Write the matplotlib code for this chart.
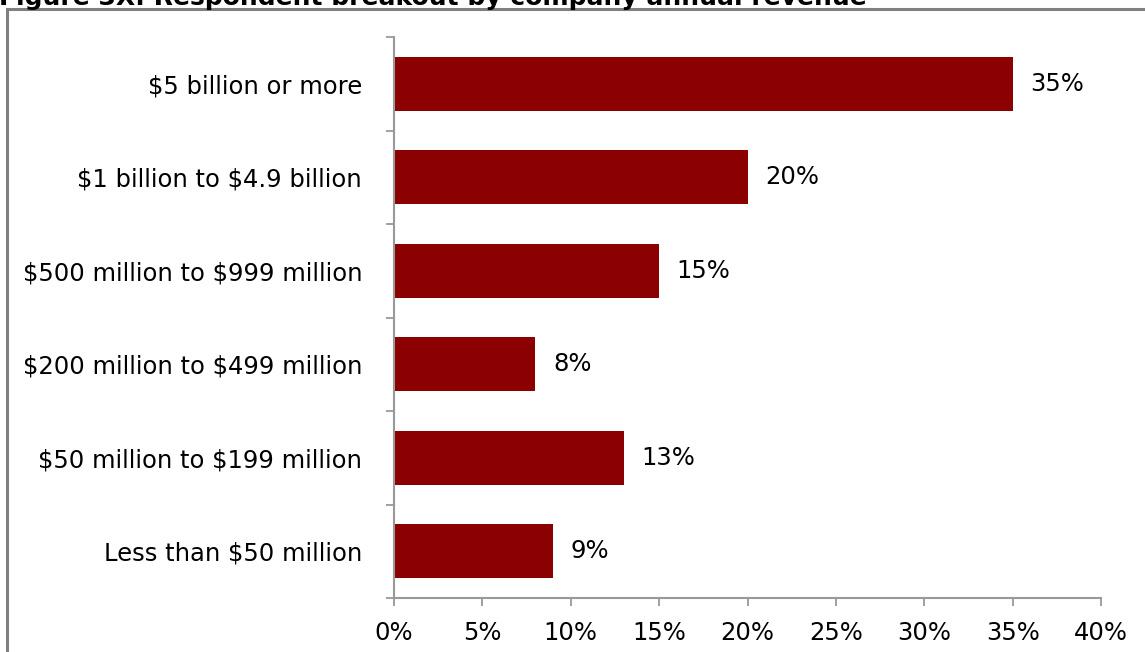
import matplotlib
matplotlib.use("Agg")
import matplotlib.pyplot as plt
from matplotlib.patches import Rectangle

plt.rcParams["text.parse_math"] = False

# Survey breakdown by annual revenue
categories = [
    "Less than $50 million",
    "$50 million to $199 million",
    "$200 million to $499 million",
    "$500 million to $999 million",
    "$1 billion to $4.9 billion",
    "$5 billion or more",
]
shares = [9, 13, 8, 15, 20, 35]
x_ticks = [0, 5, 10, 15, 20, 25, 30, 35, 40]

title = "Figure 3X: Respondent breakout by company annual revenue"

bar_color = "#8B0000"
axis_color = "#999999"
fs = 17.5

W, H = 1145, 652
fig = plt.figure(figsize=(W / 100, H / 100), dpi=100)
fig.patch.set_facecolor("white")

# Outer frame, running off the right and bottom edges
fig.patches.append(Rectangle((7 / W, -0.1), 1.2, 1 - 9 / H + 0.1,
                             transform=fig.transFigure, fill=False,
                             edgecolor="#808080", linewidth=2.2, zorder=0))

fig.text(-0.001, 1 - 4.5 / H, title, fontsize=18, fontweight="bold",
         ha="left", va="baseline", color="black")

ax = fig.add_axes([394 / W, 1 - 598 / H, (1101 - 394) / W, (598 - 37) / H])
ypos = list(range(len(categories)))
ax.barh(ypos, shares, height=0.58, color=bar_color, zorder=2)

ax.set_xlim(0, 40)
ax.set_ylim(-0.5, len(categories) - 0.5)
ax.set_xticks(x_ticks)
ax.set_xticklabels([f"{t}%" for t in x_ticks], fontsize=fs)
ax.set_yticks(ypos)
ax.set_yticklabels(categories, fontsize=fs)
ax.tick_params(axis="y", length=0, pad=23)
ax.set_yticks([y - 0.5 for y in range(len(categories) + 1)], minor=True)
ax.tick_params(axis="y", which="minor", length=5.5, color=axis_color, width=1.3)
ax.tick_params(axis="x", length=5.5, color=axis_color, width=1.3, pad=11)

for side in ("top", "right"):
    ax.spines[side].set_visible(False)
for side in ("left", "bottom"):
    ax.spines[side].set_color(axis_color)
    ax.spines[side].set_linewidth(1.5)

for y, v in zip(ypos, shares):
    ax.text(v + 1.0, y, f"{v}%", va="center", ha="left", fontsize=fs)

fig.savefig("out.png", dpi=100, facecolor="white")
